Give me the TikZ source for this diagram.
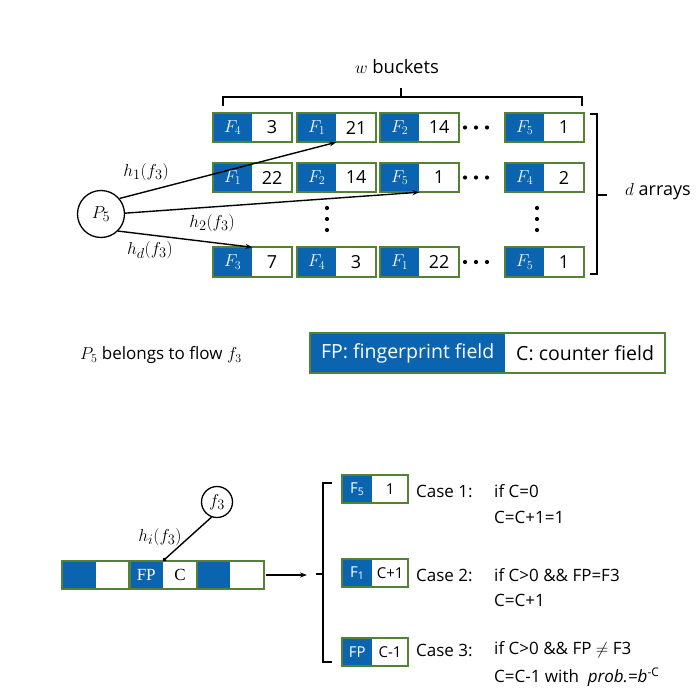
\documentclass[tikz,border=0pt]{standalone}
\usepackage{fontspec}
\setmainfont{Open Sans}
\newfontfamily\seriffont{Liberation Serif}
\usetikzlibrary{arrows.meta}
\definecolor{fpblue}{RGB}{10,100,175}
\definecolor{bgreen}{RGB}{84,130,53}
\newcommand\fs[1]{\fontsize{#1}{#1}\selectfont}
\newcommand\mybucket[5]{%
  \node[fpcell,anchor=west] (#1f) at (#2,#3) {$F_{#4}$};
  \node[ccell,anchor=west] (#1c) at (#1f.east) {#5};
  \draw[bord] (#1f.north west) rectangle (#1c.south east);}
\newcommand\mycase[4]{%
  \node[kfp,anchor=west] (#1f) at (342,#2) {#3};
  \node[kcw,anchor=west] (#1c) at (#1f.east) {#4};
  \draw[bord] (#1f.north west) rectangle (#1c.south east);}
\begin{document}
\begin{tikzpicture}[x=1pt,y=-1pt,
  fpcell/.style={fill=fpblue,text=white,minimum width=39pt,minimum height=29pt,inner sep=0pt,font=\fs{17}},
  ccell/.style={fill=white,minimum width=39pt,minimum height=29pt,inner sep=0pt,font=\fs{18}},
  bord/.style={draw=bgreen,line width=2.2pt},
  arr/.style={-{Stealth[length=7pt,width=5pt]},line width=1.4pt},
  brc/.style={line width=1.5pt},
  dotc/.style={circle,fill=black,inner sep=0pt,minimum size=4.2pt},
  lbl/.style={font=\fs{19}},
  acell/.style={minimum width=33.3pt,minimum height=28pt,inner sep=0pt,anchor=west,font=\fs{17}},
  kfp/.style={fill=fpblue,text=white,minimum width=30pt,minimum height=27pt,inner sep=0pt,font=\fs{15}},
  kcw/.style={fill=white,minimum width=35pt,minimum height=27pt,inner sep=0pt,font=\fs{15}},
  txt/.style={anchor=west,inner sep=0pt,font=\fs{17}},
  ]
\useasboundingbox (0,0) rectangle (696,693);

% w buckets brace
\node[font=\fs{18.5}] (wb) at (397,67) {$w$ buckets};
\draw[brc] (223,106) -- (223,97) -- (582,97) -- (582,106);
\draw[brc] (401,97) -- (401,88);

% rows of buckets
\mybucket{ra}{213}{127.5}{4}{3}
\mybucket{rb}{297}{127.5}{1}{21}
\mybucket{rc}{380}{127.5}{2}{14}
\mybucket{rd}{505}{127.5}{5}{1}
\mybucket{sa}{213}{177.5}{1}{22}
\mybucket{sb}{297}{177.5}{2}{14}
\mybucket{sc}{380}{177.5}{5}{1}
\mybucket{sd}{505}{177.5}{4}{2}
\mybucket{ta}{213}{262}{3}{7}
\mybucket{tb}{297}{262}{4}{3}
\mybucket{tc}{380}{262}{1}{22}
\mybucket{td}{505}{262}{5}{1}

% dots
\foreach \yy in {127.5,177.5,262} {
  \foreach \xx in {465,476,487} \node[dotc] at (\xx,\yy) {};
}
\foreach \xx in {327,537} {
  \foreach \yy in {208,219,230} \node[dotc] at (\xx,\yy) {};
}

% d arrays brace
\draw[brc] (590,114) -- (597,114) -- (597,274) -- (590,274);
\draw[brc] (597,195) -- (607,195);
\node[txt,font=\fs{18}] (da) at (625,192) {$d$ arrays};

% P5 and hash lines
\node[circle,draw,line width=1.3pt,minimum size=47pt,inner sep=0pt,font=\fs{19}] (p5) at (101,214) {$P_5$};
\draw[arr] (p5.40) -- (rbf.south east);
\draw[arr] (p5.2) -- (scf.south east);
\draw[arr] (p5.-45) -- (taf.north east);
\node[lbl] (l1) at (146,172) {$h_1(f_3)$};
\node[lbl] (l2) at (212,223) {$h_2(f_3)$};
\node[lbl] (l3) at (150,250) {$h_d(f_3)$};

% legend
\node[txt] (bel) at (80,355) {$P_5$ belongs to flow $f_3$};
\node[fill=fpblue,text=white,minimum width=195pt,minimum height=40pt,inner sep=0pt,anchor=west,font=\fs{19.5}] (lfp) at (310,353) {FP: fingerprint field};
\node[fill=white,minimum width=159pt,minimum height=40pt,inner sep=0pt,anchor=west,font=\fs{19.5}] (lc) at (lfp.east) {C: counter field};
\draw[bord] (lfp.north west) rectangle (lc.south east);

% bottom array
\node[acell,fill=fpblue] (a1) at (62,575) {};
\node[acell,fill=white] (a2) at (a1.east) {};
\node[acell,fill=fpblue,text=white] (a3) at (a2.east) {\seriffont FP};
\node[acell,fill=white] (a4) at (a3.east) {\seriffont C};
\node[acell,fill=fpblue] (a5) at (a4.east) {};
\node[acell,fill=white] (a6) at (a5.east) {};
\draw[bord] (a1.north west) rectangle (a2.south east);
\draw[bord] (a3.north west) rectangle (a4.south east);
\draw[bord] (a5.north west) rectangle (a6.south east);

\node[circle,draw,line width=1.3pt,minimum size=31pt,inner sep=0pt,font=\fs{19}] (f3) at (217,502) {$f_3$};
\draw[line width=1.4pt,-{Circle[length=4pt]}] (f3.250) -- (a4.north west);
\node[lbl] (li) at (160,537) {$h_i(f_3)$};

\coordinate (arrend) at (307,575);
\draw[arr] ([xshift=2pt]a6.east) -- (arrend);
\draw[brc] (332,483) -- (323,483) -- (323,662) -- (332,662);
\draw[brc] (323,574) -- (316,574);

% cases
\mycase{ka}{489}{F\textsubscript{5}}{1}
\mycase{kb}{573}{F\textsubscript{1}}{C+1}
\mycase{kc}{652}{FP}{C-1}

\node[txt] (c1) at (416,491) {Case 1:};
\node[txt] (c1a) at (494,491) {if C=0};
\node[txt] (c1b) at (494,517) {C=C+1=1};
\node[txt] (c2) at (416,575) {Case 2:};
\node[txt] (c2a) at (494,575) {if C>0 \&\& FP=F3};
\node[txt] (c2b) at (494,600) {C=C+1};
\node[txt] (c3) at (416,650) {Case 3:};
\node[txt] (c3a) at (494,650) {if C>0 \&\& FP $\neq$ F3};
\node[txt] (c3b) at (494,677) {C=C-1 with \ \textit{prob.=b}\textsuperscript{-C}};
\end{tikzpicture}
\end{document}
